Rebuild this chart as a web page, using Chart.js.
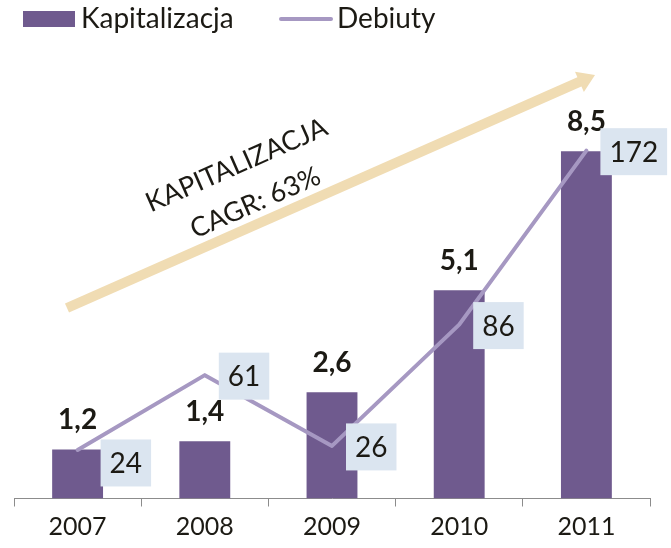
<!DOCTYPE html>
<html lang="pl">
<head>
<meta charset="utf-8">
<script src="https://cdn.jsdelivr.net/npm/chart.js@4"></script>
<style>
    html, body { margin: 0; padding: 0; background: #ffffff; }
    #wrap { position: relative; width: 671px; height: 548px; }
    #chart { position: absolute; left: 0; top: 0; }
    .legend { position: absolute; top: 0; left: 0; font-family: Lato, sans-serif; font-size: 28px; color: #1c1a14; }
    .legend span { position: absolute; white-space: nowrap; }
</style>
</head>
<body>
<div id="wrap">
    <canvas id="chart" width="671" height="548"></canvas>
    <div class="legend">
        <span style="left:23px;top:11px;width:52px;height:16px;background:#6f5a8e"></span>
        <span style="left:81px;top:0px;">Kapitalizacja</span>
        <span style="left:279px;top:17px;width:54px;height:4px;border-radius:2px;background:#a698c2"></span>
        <span style="left:337px;top:0px;">Debiuty</span>
    </div>
</div>
<script>
const years = ["2007", "2008", "2009", "2010", "2011"];
const kapitalizacja = [1.2, 1.4, 2.6, 5.1, 8.5];
const debiuty = [24, 61, 26, 86, 172];
const trendText = ["KAPITALIZACJA", "CAGR: 63%"];

const barColor = "#6f5a8e";
const lineColor = "#a698c2";
const boxColor = "#dbe5f0";
const textColor = "#1c1a14";
const fontFamily = "Lato, sans-serif";

// decimal comma, as in the source
function fmt(v) {
    return v.toFixed(1).replace(".", ",");
}

// beige trend arrow with rotated caption behind the data
const trendArrow = {
    id: "trendArrow",
    beforeDatasetsDraw(chart) {
        const ctx = chart.ctx;
        const x0 = 67, y0 = 308, x1 = 595, y1 = 75;
        const ang = Math.atan2(y1 - y0, x1 - x0);
        const len = Math.hypot(x1 - x0, y1 - y0);

        ctx.save();
        ctx.translate(x0, y0);
        ctx.rotate(ang);
        ctx.fillStyle = "#f0dcb3";
        ctx.fillRect(0, -5, len - 14, 10);
        ctx.beginPath();
        ctx.moveTo(len - 17, -11);
        ctx.lineTo(len, 0);
        ctx.lineTo(len - 17, 11);
        ctx.closePath();
        ctx.fill();
        ctx.restore();

        ctx.save();
        ctx.translate(246, 184);
        ctx.rotate(ang);
        ctx.fillStyle = textColor;
        ctx.font = "27px " + fontFamily;
        ctx.textAlign = "center";
        ctx.textBaseline = "middle";
        ctx.fillText(trendText[0], -1, -21);
        ctx.fillText(trendText[1], 1, 21);
        ctx.restore();
    },
};

// bold values above bars, boxed values next to line points
// (first box sits a bit lower and further right, clear of the bar label)
const boxShiftX = [9, 0, 0, 0, 0];
const boxShiftY = [12, 0, 0, 0, 0];
const valueLabels = {
    id: "valueLabels",
    afterDatasetsDraw(chart) {
        const ctx = chart.ctx;
        const bars = chart.getDatasetMeta(0).data;
        const points = chart.getDatasetMeta(1).data;

        ctx.save();
        ctx.fillStyle = textColor;
        ctx.font = "bold 28px " + fontFamily;
        ctx.textAlign = "center";
        ctx.textBaseline = "alphabetic";
        bars.forEach((bar, i) => {
            ctx.fillText(fmt(kapitalizacja[i]), bar.x, bar.y - 20);
        });

        ctx.font = "28px " + fontFamily;
        ctx.textBaseline = "middle";
        points.forEach((pt, i) => {
            const txt = String(debiuty[i]);
            const w = ctx.measureText(txt).width + 18;
            const h = 47;
            const left = pt.x + 14 + boxShiftX[i];
            const cy = pt.y + 1 + boxShiftY[i];
            ctx.fillStyle = boxColor;
            ctx.fillRect(left, cy - h / 2, w, h);
            ctx.fillStyle = textColor;
            ctx.fillText(txt, left + w / 2, cy + 1);
        });
        ctx.restore();
    },
};

const ctx = document.getElementById("chart").getContext("2d");

new Chart(ctx, {
    data: {
        labels: years,
        datasets: [
            {
                type: "bar",
                label: "Kapitalizacja",
                data: kapitalizacja,
                backgroundColor: barColor,
                yAxisID: "y",
                barPercentage: 0.4,
                categoryPercentage: 1,
                order: 1,
            },
            {
                type: "line",
                label: "Debiuty",
                data: debiuty,
                borderColor: lineColor,
                borderWidth: 4,
                borderCapStyle: "round",
                borderJoinStyle: "round",
                pointRadius: 0,
                tension: 0,
                yAxisID: "y2",
                order: 0,
            },
        ],
    },
    options: {
        responsive: false,
        animation: false,
        layout: {
            padding: { top: 90, left: 14, right: 21, bottom: 0 },
        },
        plugins: {
            legend: { display: false },
            tooltip: { enabled: false },
        },
        scales: {
            x: {
                offset: true,
                grid: {
                    offset: true,
                    drawOnChartArea: false,
                    drawTicks: true,
                    tickLength: 8,
                    color: "#8c8c8c",
                },
                border: { display: true, color: "#8c8c8c", width: 1 },
                ticks: {
                    color: textColor,
                    font: { family: fontFamily, size: 25, lineHeight: 1.1 },
                    padding: 7,
                },
            },
            y: {
                display: false,
                min: 0,
                max: 10,
            },
            y2: {
                display: false,
                position: "right",
                min: 0,
                max: 202,
            },
        },
    },
    plugins: [trendArrow, valueLabels],
});
</script>
</body>
</html>
